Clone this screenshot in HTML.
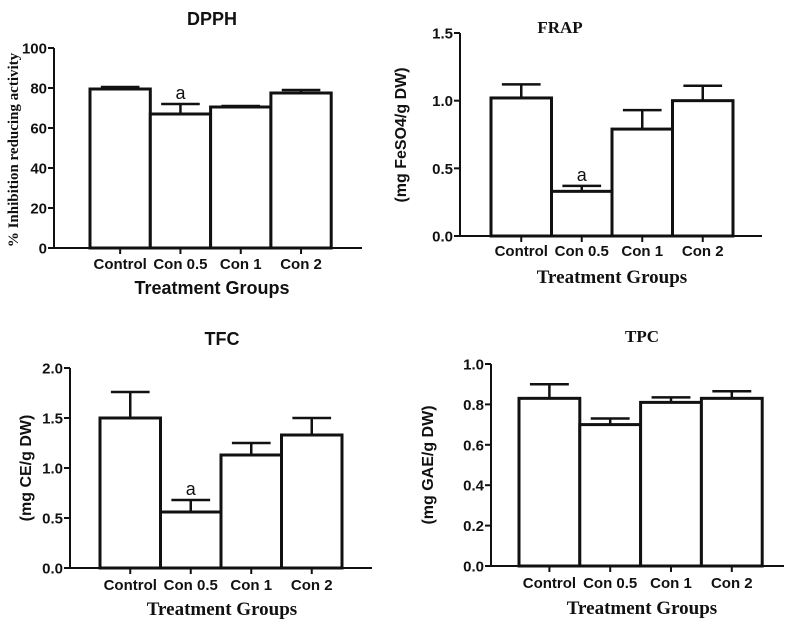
<!DOCTYPE html>
<html><head><meta charset="utf-8"><style>
body{margin:0;background:#fff;width:788px;height:621px;overflow:hidden}
svg{display:block}
.s{font-family:"Liberation Sans",sans-serif;font-weight:bold;fill:#111}
.r{font-family:"Liberation Serif",serif;font-weight:bold;fill:#111}
</style></head><body>
<svg id="c" width="788" height="621" xmlns="http://www.w3.org/2000/svg"></svg>
<script>
const categories=["Control","Con 0.5","Con 1","Con 2"];
const dpphValues=[79.5,67,70.5,77.5];
const dpphErrors=[1,5,0.5,1.5];
const dpphTicks=[0,20,40,60,80,100];
const frapValues=[1.02,0.33,0.79,1.0];
const frapErrors=[0.1,0.04,0.14,0.11];
const frapTicks=["0.0","0.5","1.0","1.5"];
const tfcValues=[1.5,0.56,1.13,1.33];
const tfcErrors=[0.26,0.12,0.12,0.17];
const tfcTicks=["0.0","0.5","1.0","1.5","2.0"];
const tpcValues=[0.83,0.70,0.81,0.83];
const tpcErrors=[0.07,0.03,0.025,0.035];
const tpcTicks=["0.0","0.2","0.4","0.6","0.8","1.0"];
const sigMarks=[null,"a",null,null];

const NS="http://www.w3.org/2000/svg";
const svg=document.getElementById('c');
function mk(tag,attrs,parent,text){const e=document.createElementNS(NS,tag);for(const k in attrs)e.setAttribute(k,attrs[k]);if(text!==undefined)e.textContent=text;(parent||svg).appendChild(e);return e;}

function panel(o){
  const g=mk('g',{});
  
  
  const ymax=parseFloat(o.ticks[o.ticks.length-1]);
  const y=v=>o.y0-(v/ymax)*(o.y0-o.y1);
  const t=mk('text',{x:o.tx,y:o.ty,'text-anchor':'middle','font-size':o.tfs||18,class:o.tcls},g,o.title);
  
  
  categories.forEach((c,i)=>{
    const x0=o.bx+i*o.bw, v=o.values[i], e=o.errors[i], cx=x0+o.bw/2;
    const top=y(v+e);
    const eb=mk('line',{x1:cx,x2:cx,y1:y(v),y2:top,stroke:'#111','stroke-width':2.5},g);
    
    
    mk('line',{x1:cx-o.bw*0.32,x2:cx+o.bw*0.32,y1:top,y2:top,stroke:'#111','stroke-width':2.5},g);
    const r=mk('rect',{x:x0,y:y(v),width:o.bw,height:o.y0-y(v),fill:'#fff',stroke:'#111','stroke-width':3},g);
    
    
    if(o.sig&&sigMarks[i]){const a=mk('text',{x:cx,y:top-5,'text-anchor':'middle','font-size':18,class:'s',style:'font-weight:normal'},g,sigMarks[i]);
      
      }
    mk('line',{x1:cx,x2:cx,y1:o.y0,y2:o.y0+6,stroke:'#111','stroke-width':2},g);
    const l=mk('text',{x:cx,y:o.ly,'text-anchor':'middle','font-size':15,class:'s'},g,c);
    
    
  });
  const ya=mk('line',{x1:o.ax,x2:o.ax,y1:o.y1,y2:o.y0+1,stroke:'#111','stroke-width':2},g);
  
  
  const xa=mk('line',{x1:o.ax-6,x2:o.xe,y1:o.y0,y2:o.y0,stroke:'#111','stroke-width':2},g);
  
  
  o.ticks.forEach(tk=>{const yy=y(parseFloat(tk));
    mk('line',{x1:o.ax-6,x2:o.ax,y1:yy,y2:yy,stroke:'#111','stroke-width':2},g);
    const l=mk('text',{x:o.ax-7,y:yy+5.5,'text-anchor':'end','font-size':15,class:'s'},g,tk);
    
    });
  const xt=mk('text',{x:o.xtx,y:o.xty,'text-anchor':'middle','font-size':o.xfs||18,class:o.xcls},g,'Treatment Groups');
  
  
  const yt=mk('text',{x:0,y:0,'text-anchor':'middle','font-size':o.yfs||16,class:o.ycls,transform:`translate(${o.ytx},${o.yty}) rotate(-90)`},g,o.ylabel);
  
  
}
panel({name:'dpph',title:'DPPH',tx:212,ty:25,tcls:'s',values:dpphValues,errors:dpphErrors,ticks:dpphTicks.map(String),
  ax:54,xe:362,y0:248,y1:48,bx:90,bw:60.3,ly:269,xtx:212,xty:294,xcls:'s',ylabel:'% Inhibition reducing activity',ytx:18,yty:150,ycls:'r',yfs:15,sig:true});
panel({name:'frap',title:'FRAP',tx:560,ty:33,tcls:'r',tfs:17,values:frapValues,errors:frapErrors,ticks:frapTicks,
  ax:460,xe:762,y0:236,y1:33,bx:491,bw:60.5,ly:256,xtx:612,xty:283,xcls:'r',xfs:19,ylabel:'(mg FeSO4/g DW)',ytx:406,yty:135,ycls:'s',sig:true});
panel({name:'tfc',title:'TFC',tx:222,ty:345,tcls:'s',values:tfcValues,errors:tfcErrors,ticks:tfcTicks,
  ax:70,xe:372,y0:568,y1:368,bx:100,bw:60.5,ly:590,xtx:222,xty:615,xcls:'r',xfs:19,ylabel:'(mg CE/g DW)',ytx:31,yty:468,ycls:'s',sig:true});
panel({name:'tpc',title:'TPC',tx:642,ty:342,tcls:'r',tfs:17,values:tpcValues,errors:tpcErrors,ticks:tpcTicks,
  ax:491,xe:784,y0:566,y1:364,bx:519,bw:60.8,ly:588,xtx:642,xty:614,xcls:'r',xfs:19,ylabel:'(mg GAE/g DW)',ytx:433,yty:465,ycls:'s',sig:false});
</script>
</body></html>
